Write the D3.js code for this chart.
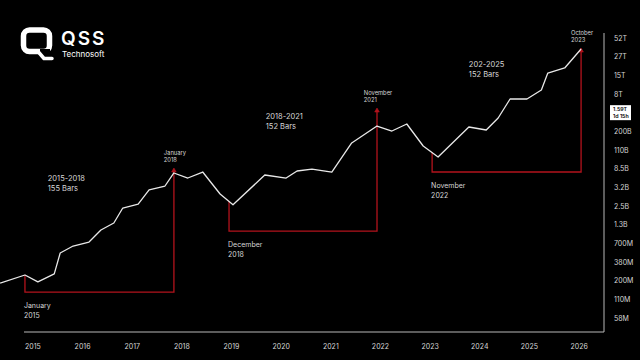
<!DOCTYPE html>
<html>
<head>
<meta charset="utf-8">
<script src="https://cdn.jsdelivr.net/npm/d3@7"></script>
<style>
  html, body { margin: 0; padding: 0; background: #000; }
  svg { display: block; }
  text { font-family: Inter, "Noto Sans", sans-serif; }
</style>
</head>
<body>
<svg id="chart" width="640" height="360"></svg>
<script>
// ---------- data ----------
const years = [2015, 2016, 2017, 2018, 2019, 2020, 2021, 2022, 2023, 2024, 2025, 2026];
const yTickValues = [58e6, 110e6, 200e6, 380e6, 700e6, 1.3e9, 2.5e9, 3.2e9, 8.5e9, 110e9, 200e9, 8e12, 15e12, 27e12, 52e12];
const yTickLabels = ["58M", "110M", "200M", "380M", "700M", "1.3B", "2.5B", "3.2B", "8.5B", "110B", "200B", "8T", "15T", "27T", "52T"];
const currentValue = 1.59e12;
const currentLabel = ["1.59T", "1d 15h"];

const seriesYear = [2014.35, 2014.85, 2015.11, 2015.44, 2015.56, 2015.82, 2016.14, 2016.38, 2016.64, 2016.82,
  2017.13, 2017.35, 2017.67, 2017.85, 2018.13, 2018.43, 2018.78, 2019.04, 2019.68, 2020.11,
  2020.33, 2020.63, 2021.03, 2021.43, 2021.94, 2022.24, 2022.54, 2022.87, 2023.17, 2023.79,
  2024.14, 2024.38, 2024.62, 2024.96, 2025.25, 2025.38, 2025.72, 2026.05];
const seriesValue = [185e6, 243e6, 192e6, 252e6, 511e6, 641e6, 731e6, 1.09e9, 1.38e9, 2.33e9,
  2.56e9, 3.09e9, 3.43e9, 6.78e9, 5.21e9, 7.13e9, 2.93e9, 2.54e9, 6.10e9, 5.21e9,
  7.52e9, 8.34e9, 7.13e9, 138e9, 361e9, 207e9, 452e9, 125e9, 42.1e9, 324e9,
  232e9, 879e9, 5.19e12, 5.19e12, 9.14e12, 16.1e12, 18.9e12, 35.3e12];

const cycleStartYear = [2014.85, 2018.96, 2023.05];
const cycleStartLabel = [["January", "2015"], ["December", "2018"], ["November", "2022"]];
const cycleEndYear = [2017.85, 2021.94, 2026.05];
const cycleEndLabel = [["January", "2018"], ["November", "2021"], ["October", "2023"]];
const cycleFloor = [139e6, 1.05e9, 7.13e9];
const cycleTip = [9.3e9, 2.38e12, 36.6e12];
const cycleName = [["2015-2018", "155 Bars"], ["2018-2021", "152 Bars"], ["202-2025", "152 Bars"]];
const cycleNameYear = [2015.31, 2019.70, 2023.79];
const cycleNameValue = [4.46e9, 785e9, 19.5e12];

// ---------- layout ----------
const W = 640, H = 360;
const frameRight = 604, frameBottom = 332, frameLeft = 24, frameTop = 33;
const RED = "#b3131c";
const LINE = "#e8e8e8";
const TXT = "#d6d6d6";

const svg = d3.select("#chart");

// x scale
const x = d3.scaleLinear().domain([2015, 2026]).range([32.4, 578.6]);

// y scale: evenly spaced labelled levels (piecewise log)
const levelValues = yTickValues.slice();
levelValues.splice(11, 0, currentValue);
const yBottom = 318, yTop = 38;
const step = (yBottom - yTop) / (levelValues.length - 1);
const y = d3.scaleLog()
  .domain(levelValues)
  .range(levelValues.map((d, i) => yBottom - i * step));

// frame
svg.append("path")
  .attr("d", `M${frameLeft},${frameBottom}H${frameRight}V${frameTop}`)
  .attr("fill", "none").attr("stroke", "#b8b8b8").attr("stroke-width", 1);

// bottom axis
const xAxis = svg.append("g")
  .attr("transform", `translate(0,${frameBottom})`)
  .call(d3.axisBottom(x).tickValues(years).tickFormat(d3.format("d")).tickSize(0).tickPadding(12));
xAxis.select(".domain").remove();
xAxis.selectAll("text").attr("fill", TXT).style("font-size", "7px").style("font-family", "Inter, sans-serif");

// right axis
const yAxis = svg.append("g")
  .attr("transform", `translate(${frameRight},0)`)
  .call(d3.axisRight(y).tickValues(yTickValues).tickFormat((d, i) => yTickLabels[i]).tickSize(0).tickPadding(10));
yAxis.select(".domain").remove();
yAxis.selectAll("text").attr("fill", TXT).style("font-size", "7px").style("font-family", "Inter, sans-serif");

// current value box
const cy = y(currentValue);
svg.append("rect")
  .attr("x", frameRight + 6).attr("y", cy - 7.5).attr("width", 21).attr("height", 15)
  .attr("fill", "#ffffff");
svg.append("text")
  .attr("x", frameRight + 9).attr("y", cy - 1.2)
  .attr("fill", "#000").style("font-size", "5.3px").style("font-weight", "600")
  .text(currentLabel[0]);
svg.append("text")
  .attr("x", frameRight + 9).attr("y", cy + 5)
  .attr("fill", "#000").style("font-size", "5.3px").style("font-weight", "600")
  .text(currentLabel[1]);

// series
const series = seriesYear.map((yr, i) => ({ year: yr, value: seriesValue[i] }));
const pts = series.map(d => [x(d.year), y(d.value)]);

function lineYAt(px) {
  for (let i = 0; i < pts.length - 1; i++) {
    const [x0, y0] = pts[i], [x1, y1] = pts[i + 1];
    if (px >= x0 && px <= x1) return y0 + (y1 - y0) * (px - x0) / (x1 - x0);
  }
  return pts[pts.length - 1][1];
}

// red cycle brackets (drawn first, under the line)
const red = svg.append("g");
cycleStartYear.forEach((sy, i) => {
  const sx = x(sy), ex = x(cycleEndYear[i]);
  const fy = y(cycleFloor[i]);
  const ty = y(cycleTip[i]);
  const sTop = lineYAt(sx);
  red.append("path")
    .attr("d", `M${sx},${sTop}V${fy}H${ex}V${ty + 3}`)
    .attr("fill", "none").attr("stroke", RED).attr("stroke-width", 1.3);
  red.append("path")
    .attr("d", `M${ex - 2.3},${ty + 4}L${ex},${ty}L${ex + 2.3},${ty + 4}Z`)
    .attr("fill", RED).attr("stroke", RED).attr("stroke-width", 0.6);

  // start labels
  const st = svg.append("text").attr("fill", TXT).style("font-size", "7px");
  st.append("tspan").attr("x", sx - 1).attr("y", fy + 16).text(cycleStartLabel[i][0]);
  st.append("tspan").attr("x", sx - 1).attr("y", fy + 26).text(cycleStartLabel[i][1]);

  // end (peak) labels: left-aligned block centred on the peak
  const et = svg.append("text").attr("fill", TXT).style("font-size", "5.8px");
  const t1 = et.append("tspan").attr("y", ty - 13).text(cycleEndLabel[i][0]);
  const t2 = et.append("tspan").attr("y", ty - 6).text(cycleEndLabel[i][1]);
  const w = Math.max(t1.node().getComputedTextLength(), t2.node().getComputedTextLength());
  t1.attr("x", ex - w / 2 + 1);
  t2.attr("x", ex - w / 2 + 1);

  // cycle name labels
  const nt = svg.append("text").attr("fill", TXT).style("font-size", "7.5px");
  const nx = x(cycleNameYear[i]), ny = y(cycleNameValue[i]);
  nt.append("tspan").attr("x", nx).attr("y", ny).text(cycleName[i][0]);
  nt.append("tspan").attr("x", nx).attr("y", ny + 10).text(cycleName[i][1]);
});

// price line
svg.append("path")
  .datum(series)
  .attr("d", d3.line().x(d => x(d.year)).y(d => y(d.value)))
  .attr("fill", "none").attr("stroke", LINE).attr("stroke-width", 1.3)
  .attr("stroke-linejoin", "round");

// logo
const logo = svg.append("g");
logo.append("rect")
  .attr("x", 23.5).attr("y", 30).attr("width", 26).attr("height", 21.5).attr("rx", 6)
  .attr("fill", "none").attr("stroke", "#fff").attr("stroke-width", 5.5);
logo.append("rect")
  .attr("x", 40).attr("y", 49).attr("width", 10).attr("height", 6).attr("fill", "#000");
logo.append("path")
  .attr("d", "M38,51.5 L44,58.5 L52,58.5")
  .attr("fill", "none").attr("stroke", "#fff").attr("stroke-width", 3.5)
  .attr("stroke-linecap", "round").attr("stroke-linejoin", "round");
logo.append("text")
  .attr("x", 61).attr("y", 45)
  .attr("fill", "#fff").style("font-size", "19px").style("font-weight", "600")
  .style("letter-spacing", "2px")
  .text("QSS");
logo.append("text")
  .attr("x", 62).attr("y", 56.5)
  .attr("fill", "#fff").style("font-size", "8px")
  .text("Technosoft");
</script>
</body>
</html>
